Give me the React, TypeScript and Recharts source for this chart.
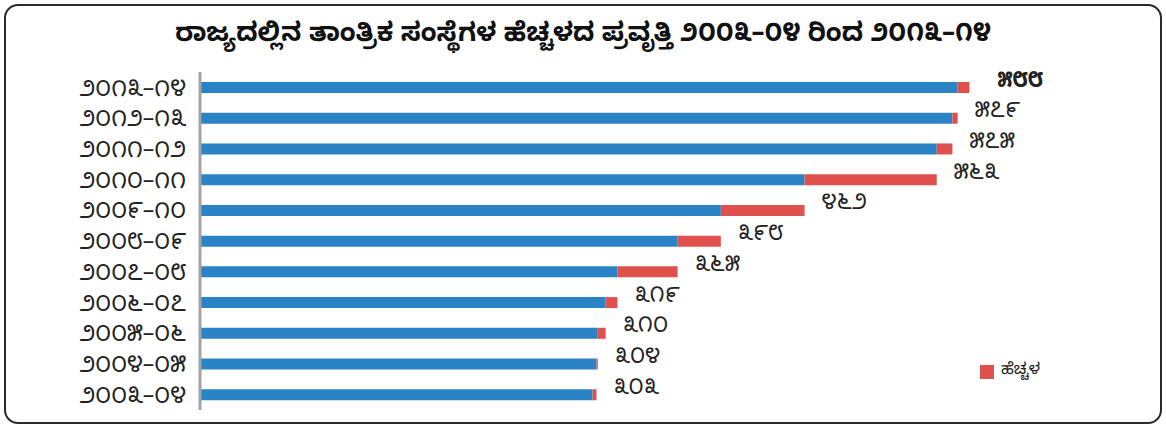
import { Bar, BarChart, LabelList, XAxis, YAxis } from "recharts";

const years = [
  "೨೦೦೩–೦೪",
  "೨೦೦೪–೦೫",
  "೨೦೦೫–೦೬",
  "೨೦೦೬–೦೭",
  "೨೦೦೭–೦೮",
  "೨೦೦೮–೦೯",
  "೨೦೦೯–೧೦",
  "೨೦೧೦–೧೧",
  "೨೦೧೧–೧೨",
  "೨೦೧೨–೧೩",
  "೨೦೧೩–೧೪",
];
// institutions at end of previous year (blue) and this year's total
const previous = [300, 303, 304, 310, 319, 365, 398, 462, 563, 575, 579];
const totals = [303, 304, 310, 319, 365, 398, 462, 563, 575, 579, 588];
const totalLabels = [
  "೩೦೩",
  "೩೦೪",
  "೩೧೦",
  "೩೧೯",
  "೩೬೫",
  "೩೯೮",
  "೪೬೨",
  "೫೬೩",
  "೫೭೫",
  "೫೭೯",
  "೫೮೮",
];

const data = years.map((year, i) => ({
  year,
  base: previous[i],
  increase: totals[i] - previous[i],
  label: totalLabels[i],
}));

const FONT = '"Noto Sans Kannada", "Noto Sans", sans-serif';

const TotalLabel = (props: any) => {
  const { x, y, width, height, value, index } = props;
  const last = index === data.length - 1;
  return (
    <text
      x={Number(x) + Number(width) + (last ? 28 : 17)}
      y={Number(y) + Number(height) / 2 - 4}
      dominantBaseline="central"
      fontSize={22}
      fontWeight={last ? 700 : 400}
      fill="#222"
      fontFamily={FONT}
    >
      {value}
    </text>
  );
};

export default function App() {
  return (
    <div
      style={{
        position: "absolute",
        left: 0,
        top: 0,
        width: 1166,
        height: 428,
        background: "#fff",
        fontFamily: FONT,
      }}
    >
      <style>{`body{margin:0}`}</style>
      <div
        style={{
          position: "absolute",
          left: 4,
          top: 4,
          width: 1154,
          height: 416,
          border: "2px solid #2a2a2a",
          borderRadius: 14,
        }}
      />
      <div
        style={{
          position: "absolute",
          top: 20,
          left: 0,
          width: 1166,
          textAlign: "center",
          fontSize: 26,
          lineHeight: "36px",
          fontWeight: 700,
          color: "#111",
        }}
      >
        ರಾಜ್ಯದಲ್ಲಿನ ತಾಂತ್ರಿಕ ಸಂಸ್ಥೆಗಳ ಹೆಚ್ಚಳದ ಪ್ರವೃತ್ತಿ ೨೦೦೩–೦೪ ರಿಂದ ೨೦೧೩–೧೪
      </div>
      <div style={{ position: "absolute", left: 0, top: 0 }}>
        <BarChart
          width={1166}
          height={428}
          data={data}
          layout="vertical"
          margin={{ top: 72, right: 50, left: 10, bottom: 18 }}
          barSize={11}
        >
          <XAxis type="number" domain={[0, 700]} hide />
          <YAxis
            type="category"
            dataKey="year"
            reversed
            interval={0}
            width={190}
            tickLine={false}
            axisLine={{ stroke: "#a3a3a3", strokeWidth: 3 }}
            tick={{ fontSize: 23, fill: "#222", fontFamily: FONT }}
            tickMargin={8}
          />
          <Bar
            dataKey="base"
            stackId="a"
            fill="#2a83c5"
            isAnimationActive={false}
          />
          <Bar
            dataKey="increase"
            name="ಹೆಚ್ಚಳ"
            stackId="a"
            fill="#e0504c"
            isAnimationActive={false}
          >
            <LabelList dataKey="label" content={TotalLabel} />
          </Bar>
        </BarChart>
      </div>
      <div
        style={{
          position: "absolute",
          left: 980,
          top: 361,
          display: "flex",
          alignItems: "center",
          gap: 7,
          fontSize: 16,
          color: "#222",
        }}
      >
        <span
          style={{ width: 14, height: 14, background: "#e0504c", display: "inline-block" }}
        />
        <span>ಹೆಚ್ಚಳ</span>
      </div>
    </div>
  );
}
